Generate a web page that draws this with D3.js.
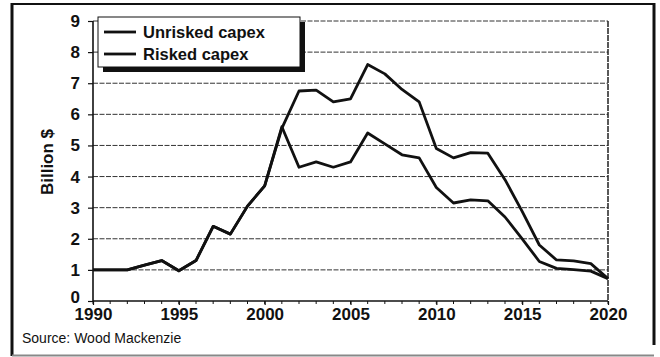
<!DOCTYPE html>
<html>
<head>
<meta charset="utf-8">
<script src="https://cdn.jsdelivr.net/npm/d3@7"></script>
<style>
  html, body { margin: 0; padding: 0; background: #fff; }
  svg { display: block; font-family: "Liberation Sans", Arial, sans-serif; }
</style>
</head>
<body>
<svg id="chart" width="660" height="357"></svg>
<script>
// ---- data ----
const years = [1990,1991,1992,1993,1994,1995,1996,1997,1998,1999,2000,2001,2002,2003,2004,2005,2006,2007,2008,2009,2010,2011,2012,2013,2014,2015,2016,2017,2018,2019,2020];
const unrisked = [1.0,1.0,1.0,1.15,1.3,0.97,1.3,2.4,2.15,3.05,3.7,5.55,6.75,6.78,6.4,6.5,7.6,7.3,6.8,6.4,4.9,4.6,4.77,4.75,3.9,2.88,1.8,1.32,1.29,1.2,0.72];
const risked   = [1.0,1.0,1.0,1.15,1.3,0.97,1.3,2.4,2.15,3.05,3.7,5.6,4.3,4.47,4.3,4.47,5.4,5.05,4.7,4.6,3.65,3.15,3.25,3.22,2.7,2.0,1.27,1.05,1.01,0.96,0.72];
const seriesNames = ["Unrisked capex", "Risked capex"];
const yTicks = [0,1,2,3,4,5,6,7,8,9];
const xTicks = [1990,1995,2000,2005,2010,2015,2020];
const yTitle = "Billion $";
const source = "Source: Wood Mackenzie";

// ---- layout ----
const svg = d3.select("#chart");
const x = d3.scaleLinear().domain([1990, 2020]).range([93, 608]);
const y = d3.scaleLinear().domain([0, 9]).range([301, 21]);

// outer frame
svg.append("line").attr("x1", 12).attr("x2", 654).attr("y1", 4).attr("y2", 4)
  .attr("stroke", "#111").attr("stroke-width", 2);
svg.append("line").attr("x1", 12).attr("x2", 12).attr("y1", 3).attr("y2", 356)
  .attr("stroke", "#111").attr("stroke-width", 3);
svg.append("line").attr("x1", 654).attr("x2", 654).attr("y1", 3).attr("y2", 345)
  .attr("stroke", "#111").attr("stroke-width", 3);
svg.append("line").attr("x1", 12).attr("x2", 654).attr("y1", 355.5).attr("y2", 355.5)
  .attr("stroke", "#888").attr("stroke-width", 2);

// gridlines
svg.append("g").selectAll("line").data(yTicks.filter(d => d > 0)).join("line")
  .attr("x1", x(1990)).attr("x2", x(2020))
  .attr("y1", d => y(d)).attr("y2", d => y(d))
  .attr("stroke", "#333").attr("stroke-width", 1)
  .attr("stroke-dasharray", "5,1.5");

// right plot border (dashed)
svg.append("line").attr("x1", x(2020)).attr("x2", x(2020)).attr("y1", y(9)).attr("y2", y(0))
  .attr("stroke", "#222").attr("stroke-width", 1.5).attr("stroke-dasharray", "6,1");

// minor x ticks each year
svg.append("g").selectAll("line").data(years).join("line")
  .attr("x1", d => x(d)).attr("x2", d => x(d))
  .attr("y1", y(0)).attr("y2", y(0) + 3)
  .attr("stroke", "#111").attr("stroke-width", 1);

// axes
const yAxis = svg.append("g").attr("transform", `translate(${x(1990)},0)`)
  .call(d3.axisLeft(y).tickValues(yTicks).tickFormat(d3.format("d")).tickSize(5).tickPadding(8));
const xAxis = svg.append("g").attr("transform", `translate(0,${y(0)})`)
  .call(d3.axisBottom(x).tickValues(xTicks).tickFormat(d3.format("d")).tickSize(4).tickPadding(3));
[yAxis, xAxis].forEach(g => {
  g.select(".domain").attr("stroke", "#111").attr("stroke-width", 1.6);
  g.selectAll(".tick line").attr("stroke", "#111").attr("stroke-width", 1.2);
  g.selectAll(".tick text").attr("fill", "#111")
    .style("font-size", "17px").style("font-weight", "bold")
    .style("font-family", "'Liberation Sans', Arial, sans-serif");
});
// lift the "0" label slightly so it does not collide with "1990"
yAxis.selectAll(".tick text").filter(d => d === 0).attr("dy", "0.1em");
xAxis.select(".domain").attr("d", `M${x(1990)},0H${x(2020)}`);
yAxis.select(".domain").attr("d", `M0,${y(0)}V${y(9)}`);

// y title
svg.append("text")
  .attr("transform", `translate(53,162) rotate(-90)`)
  .attr("text-anchor", "middle")
  .style("font-size", "17px").style("font-weight", "bold").attr("fill", "#111")
  .text(yTitle);

// lines
const line = d3.line().x((d, i) => x(years[i])).y(d => y(d));
svg.append("path").datum(risked).attr("d", line)
  .attr("fill", "none").attr("stroke", "#111").attr("stroke-width", 2.8)
  .attr("stroke-linejoin", "round");
svg.append("path").datum(unrisked).attr("d", line)
  .attr("fill", "none").attr("stroke", "#111").attr("stroke-width", 2.8)
  .attr("stroke-linejoin", "round");

// legend
const lg = svg.append("g");
lg.append("rect").attr("x", 103).attr("y", 22).attr("width", 202).attr("height", 50).attr("fill", "#111");
lg.append("rect").attr("x", 98).attr("y", 17).attr("width", 202).attr("height", 50)
  .attr("fill", "#fff").attr("stroke", "#111").attr("stroke-width", 1);
seriesNames.forEach((name, i) => {
  const yy = 32 + i * 22;
  lg.append("line").attr("x1", 104).attr("x2", 136).attr("y1", yy).attr("y2", yy)
    .attr("stroke", "#111").attr("stroke-width", 2.8);
  lg.append("text").attr("x", 143).attr("y", yy + 6)
    .style("font-size", "16.5px").style("font-weight", "bold").attr("fill", "#111")
    .text(name);
});

// source
svg.append("text").attr("x", 22).attr("y", 343)
  .style("font-size", "14px").attr("fill", "#111")
  .text(source);
</script>
</body>
</html>
